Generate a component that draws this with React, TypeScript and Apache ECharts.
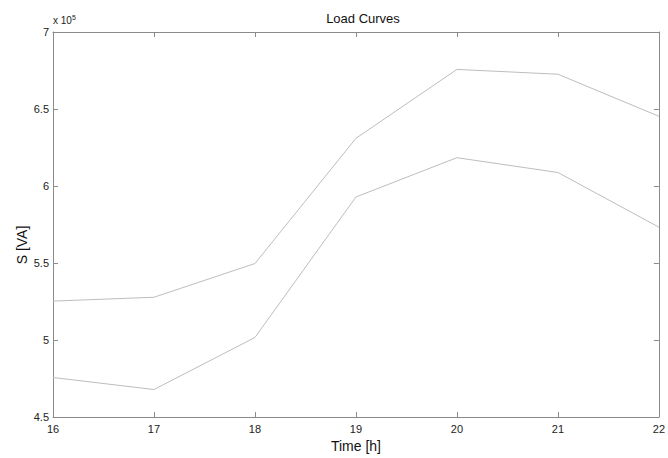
import React, { useEffect, useRef } from "react";
import * as echarts from "echarts";

const hours = [16, 17, 18, 19, 20, 21, 22];
const upperLoad = [525300, 527800, 549700, 631000, 675700, 672600, 645300];
const lowerLoad = [475700, 467900, 501700, 592900, 618400, 608800, 573300];
const yTicks = [450000, 700000, 50000];

export default function App() {
  const ref = useRef<HTMLDivElement>(null);
  useEffect(() => {
    if (!ref.current) return;
    const chart = echarts.init(ref.current, undefined, { renderer: "svg" });
    const axisColor = "#8a8a8a";
    const labelStyle = { color: "#222", fontSize: 11, fontFamily: "Liberation Sans, Arial, sans-serif" };
    const mk = (arr: number[]) => hours.map((h, i) => [h, arr[i]]);
    chart.setOption({
      animation: false,
      backgroundColor: "#fff",
      title: {
        text: "Load Curves",
        left: 358,
        top: 7,
        textAlign: "center",
        textStyle: { fontSize: 13, fontWeight: "normal", color: "#111", fontFamily: "Liberation Sans, Arial, sans-serif" },
      },
      grid: { left: 53, right: 6, top: 32, bottom: 34, containLabel: false },
      xAxis: [
        {
          type: "value",
          min: 16,
          max: 22,
          interval: 1,
          axisLine: { show: true, lineStyle: { color: axisColor, width: 1 } },
          axisTick: { show: true, inside: true, length: 5, lineStyle: { color: axisColor } },
          splitLine: { show: false },
          axisLabel: { ...labelStyle, margin: 6 },
          name: "Time [h]",
          nameLocation: "middle",
          nameGap: 18,
          nameTextStyle: { fontSize: 14, color: "#111", fontFamily: "Liberation Sans, Arial, sans-serif" },
        },
        {
          type: "value",
          position: "top",
          min: 16,
          max: 22,
          interval: 1,
          axisLine: { show: true, lineStyle: { color: axisColor, width: 1 } },
          axisTick: { show: true, inside: true, length: 5, lineStyle: { color: axisColor } },
          splitLine: { show: false },
          axisLabel: { show: false },
        },
      ],
      yAxis: [
        {
          type: "value",
          min: yTicks[0],
          max: yTicks[1],
          interval: yTicks[2],
          axisLine: { show: true, lineStyle: { color: axisColor, width: 1 } },
          axisTick: { show: true, inside: true, length: 5, lineStyle: { color: axisColor } },
          splitLine: { show: false },
          axisLabel: { ...labelStyle, margin: 4, formatter: (v: number) => String(v / 100000) },
        },
        {
          type: "value",
          position: "right",
          min: yTicks[0],
          max: yTicks[1],
          interval: yTicks[2],
          axisLine: { show: true, lineStyle: { color: axisColor, width: 1 } },
          axisTick: { show: true, inside: true, length: 5, lineStyle: { color: axisColor } },
          splitLine: { show: false },
          axisLabel: { show: false },
        },
      ],
      graphic: [
        {
          type: "text",
          x: 22,
          y: 245,
          rotation: Math.PI / 2,
          style: {
            text: "S [VA]",
            fontSize: 14,
            fill: "#111",
            fontFamily: "Liberation Sans, Arial, sans-serif",
            align: "center",
            verticalAlign: "middle",
          },
        },
        {
          type: "text",
          x: 53,
          y: 20,
          style: {
            text: "x 10{sup|5}",
            fontSize: 10,
            fill: "#222",
            fontFamily: "Liberation Sans, Arial, sans-serif",
            verticalAlign: "middle",
            rich: { sup: { fontSize: 7, verticalAlign: "top", padding: [0, 0, 6, 0], fill: "#222" } },
          },
        },
      ],
      series: [
        {
          type: "line",
          data: mk(upperLoad),
          symbol: "none",
          lineStyle: { color: "#bdbdbd", width: 1 },
        },
        {
          type: "line",
          data: mk(lowerLoad),
          symbol: "none",
          lineStyle: { color: "#bdbdbd", width: 1 },
        },
      ],
    });
    return () => chart.dispose();
  }, []);
  return <div ref={ref} style={{ width: 668, height: 458, position: "absolute", left: 0, top: 0 }} />;
}
